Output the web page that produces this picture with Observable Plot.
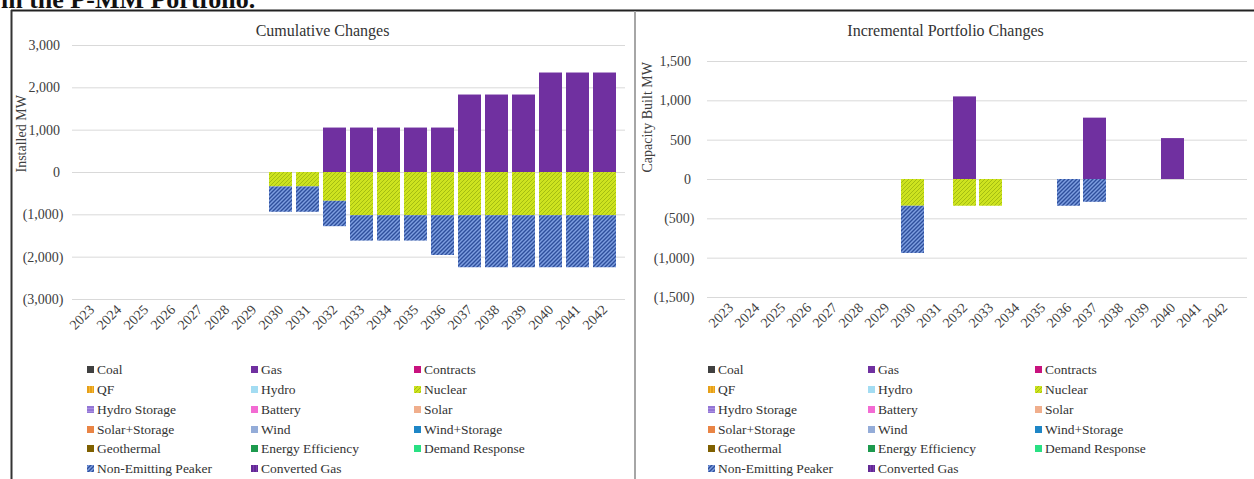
<!DOCTYPE html>
<html>
<head>
<meta charset="utf-8">
<script src="https://cdn.jsdelivr.net/npm/d3@7"></script>
<script src="https://cdn.jsdelivr.net/npm/@observablehq/plot@0.6"></script>
<style>
  html, body { margin: 0; padding: 0; background: #fff; }
  #wrap { position: relative; width: 1254px; height: 479px; overflow: hidden; background: #fff; font-family: 'Liberation Serif', 'Times New Roman', serif; }
  .leg { position: absolute; font-size: 13.5px; color: #333; white-space: nowrap; line-height: 16px; }
  .leg svg { vertical-align: middle; margin-right: 3px; position: relative; top: -1px; }
</style>
</head>
<body>
<svg width="0" height="0" style="position:absolute">
  <defs>
    <pattern id="pNuc" patternUnits="userSpaceOnUse" width="4" height="4">
      <rect width="4" height="4" fill="#cde31f"/>
      <path d="M-1,1 l2,-2 M0,4 l4,-4 M3,5 l2,-2" stroke="#a4bd12" stroke-width="1"/>
    </pattern>
    <pattern id="pPeak" patternUnits="userSpaceOnUse" width="4" height="4">
      <rect width="4" height="4" fill="#7d9ee0"/>
      <path d="M-1,1 l2,-2 M0,4 l4,-4 M3,5 l2,-2" stroke="#2e4f9c" stroke-width="1.4"/>
    </pattern>
    <pattern id="pQF" patternUnits="userSpaceOnUse" width="3" height="3">
      <rect width="3" height="3" fill="#f7b733"/>
      <path d="M1,0 v3" stroke="#d48a00" stroke-width="1"/>
    </pattern>
    <pattern id="pHS" patternUnits="userSpaceOnUse" width="3" height="3">
      <rect width="3" height="3" fill="#a98fe3"/>
      <path d="M0,1 h3" stroke="#7d5cc8" stroke-width="1"/>
    </pattern>
    <pattern id="pCG" patternUnits="userSpaceOnUse" width="3" height="3">
      <rect width="3" height="3" fill="#7a3ab0"/>
      <path d="M1,0 v3" stroke="#4b1a78" stroke-width="1"/>
    </pattern>
  </defs>
</svg>
<div id="wrap"></div>
<script>
// ---------------- data ----------------
const years = ["2023","2024","2025","2026","2027","2028","2029","2030","2031","2032",
               "2033","2034","2035","2036","2037","2038","2039","2040","2041","2042"];

// Cumulative changes (MW)
const cumGas     = [0,0,0,0,0,0,0,0,0,1050,1050,1050,1050,1050,1830,1830,1830,2350,2350,2350];
const cumNuclear = [0,0,0,0,0,0,0,-340,-340,-680,-1020,-1020,-1020,-1020,-1020,-1020,-1020,-1020,-1020,-1020];
const cumPeaker  = [0,0,0,0,0,0,0,-600,-600,-600,-600,-600,-600,-940,-1230,-1230,-1230,-1230,-1230,-1230];

// Incremental portfolio changes (MW)
const incGas     = [0,0,0,0,0,0,0,0,0,1050,0,0,0,0,780,0,0,520,0,0];
const incNuclear = [0,0,0,0,0,0,0,-340,0,-340,-340,0,0,0,0,0,0,0,0,0];
const incPeaker  = [0,0,0,0,0,0,0,-600,0,0,0,0,0,-340,-290,0,0,0,0,0];

const cumTicks = [-3000,-2000,-1000,0,1000,2000,3000];
const incTicks = [-1500,-1000,-500,0,500,1000,1500];

const seriesNames = ["Gas","Nuclear","Non-Emitting Peaker"];
const seriesFills = ["#7030a0","url(#pNuc)","url(#pPeak)"];

const legendNames = ["Coal","Gas","Contracts","QF","Hydro","Nuclear","Hydro Storage","Battery","Solar",
  "Solar+Storage","Wind","Wind+Storage","Geothermal","Energy Efficiency","Demand Response",
  "Non-Emitting Peaker","Converted Gas"];
const legendFills = ["#404040","#7030a0","#c8127e","url(#pQF)","#a3dcf2","url(#pNuc)","url(#pHS)","#f36bd3","#f0ae8c",
  "#e98445","#94acd8","#1e86c6","#7f6000","#1d9a4e","#29e083","url(#pPeak)","url(#pCG)"];

// ---------------- build ----------------
function rows(arrs) {
  const out = [];
  arrs.forEach((arr, s) => arr.forEach((v, i) => {
    if (v !== 0) out.push({year: years[i], value: v, series: seriesNames[s], fill: seriesFills[s]});
  }));
  return out;
}
const fmt0 = d3.format(",");
const fmt = d => d < 0 ? `(${fmt0(-d)})` : fmt0(d) + "\u2008";

function chart(o) {
  return Plot.plot({
    width: o.width, height: o.height,
    marginLeft: o.ml, marginRight: o.mr, marginTop: o.mt, marginBottom: o.mb,
    style: {fontFamily: "'Liberation Serif', 'Times New Roman', serif", fontSize: "14px", color: "#404040", background: "transparent", overflow: "visible"},
    x: {domain: years, padding: 0.13, label: null},
    y: {domain: [o.ticks[0], o.ticks[o.ticks.length - 1]], label: null},
    color: {type: "identity"},
    marks: [
      Plot.ruleY(o.ticks, {stroke: "#d9d9d9", strokeWidth: 1}),
      Plot.barY(o.data, {x: "year", y: "value", fill: "fill"}),
      Plot.axisY({ticks: o.ticks, tickFormat: fmt, tickSize: 0, tickPadding: o.tp, label: null}),
      Plot.axisX({tickRotate: -45, tickSize: 0, tickPadding: 8, label: null}),
      Plot.text([o.title], {frameAnchor: "top-left", dx: o.tdx, dy: o.tdy, textAnchor: "middle", lineAnchor: "bottom", fontSize: 16, fill: "#333"}),
      Plot.text([o.ylabel], {frameAnchor: "left", dx: o.ldx, dy: o.ldy, rotate: -90, fontSize: 14, fill: "#404040"})
    ]
  });
}

const wrap = document.getElementById("wrap");

const left = chart({
  data: rows([cumGas, cumNuclear, cumPeaker]), ticks: cumTicks,
  width: 634, height: 345, ml: 72, mr: 9, mt: 45, mb: 46, tp: 9,
  title: "Cumulative Changes", tdx: 250, tdy: -10,
  ylabel: "Installed MW", ldx: -51, ldy: 0
});
left.style.position = "absolute"; left.style.left = "0px"; left.style.top = "0px";
wrap.appendChild(left);

const right = chart({
  data: rows([incGas, incNuclear, incPeaker]), ticks: incTicks,
  width: 618, height: 345, ml: 71, mr: 7, mt: 61, mb: 48, tp: 13,
  title: "Incremental Portfolio Changes", tdx: 238, tdy: -26,
  ylabel: "Capacity Built MW", ldx: -60, ldy: -7
});
right.style.position = "absolute"; right.style.left = "636px"; right.style.top = "0px";
wrap.appendChild(right);

// overlay: page title + panel borders
const ov = d3.select(wrap).append("svg")
  .attr("width", 1254).attr("height", 479)
  .style("position", "absolute").style("left", "0px").style("top", "0px").style("pointer-events", "none");
ov.append("text").attr("x", 1).attr("y", 8)
  .attr("font-family", "'Liberation Serif', 'Times New Roman', serif")
  .attr("font-weight", "bold").attr("font-size", 26).attr("fill", "#111")
  .text("in the P-MM Portfolio.");
ov.append("line").attr("x1", 11).attr("x2", 1254).attr("y1", 10.5).attr("y2", 10.5).attr("stroke", "#222").attr("stroke-width", 2);
ov.append("line").attr("x1", 11.5).attr("x2", 11.5).attr("y1", 10).attr("y2", 479).attr("stroke", "#333").attr("stroke-width", 2);
ov.append("line").attr("x1", 635).attr("x2", 635).attr("y1", 11).attr("y2", 479).attr("stroke", "#a6a6a6").attr("stroke-width", 2);

// legends (3 columns x 6 rows)
function legend(cols) {
  const rowY = [370, 390, 410, 429.5, 449, 469];
  legendNames.forEach((name, i) => {
    const c = i % 3, r = Math.floor(i / 3);
    const d = document.createElement("div");
    d.className = "leg";
    d.style.left = cols[c] + "px";
    d.style.top = (rowY[r] - 8) + "px";
    d.innerHTML = `<svg width="7" height="7"><rect width="7" height="7" fill="${legendFills[i]}"/></svg>${name}`;
    wrap.appendChild(d);
  });
}
legend([87, 251, 414]);
legend([708, 868, 1035]);
</script>
</body>
</html>
